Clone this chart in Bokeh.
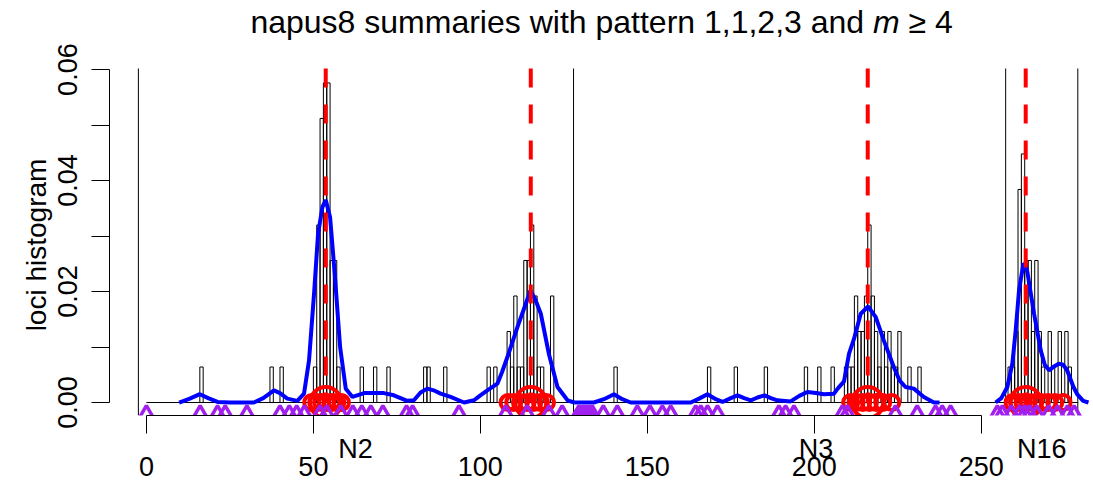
import math
import numpy as np
from bokeh.plotting import figure
from bokeh.models import Range1d, LinearAxis, FixedTicker
from bokeh.core.properties import value
from bokeh.embed import file_html
from bokeh.resources import INLINE

# ---------------- data ----------------
title_main = "napus8 summaries with pattern 1,1,2,3 and"
title_var = "m"
title_tail = "\u2265 4"
y_label = "loci histogram"

chrom_names = ["N2", "N3", "N16"]
chrom_bounds = [-2.4, 127.9, 257.3, 278.9]
chrom_label_pos = [62.6, 200.5, 268.1]

x_ticks = [0, 50, 100, 150, 200, 250]
y_ticks = [0.0, 0.01, 0.02, 0.03, 0.04, 0.05, 0.06]
y_tick_labels = ["0.00", "", "0.02", "", "0.04", "", "0.06"]

# histogram: 1-unit bins from hist_start to hist_end, non-empty bins listed
hist_start, hist_end = 0, 279
hist_bins = [16, 37, 40, 50, 51, 52, 53, 54, 55, 56, 57, 64, 68, 72, 83, 84, 89,
             102, 104, 108, 109, 110, 111, 112, 113, 114, 115, 116, 117, 118, 121,
             140, 168, 176, 185, 197, 201, 205, 209, 210, 211, 212, 213, 214, 215,
             216, 217, 218, 219, 220, 221, 222, 223, 224, 225, 228, 231,
             258, 259, 260, 261, 262, 263, 264, 265, 266, 267, 268, 270, 271, 273,
             275, 276]
hist_counts = [1, 1, 1, 1, 5, 8, 9, 9, 4, 4, 1, 1, 1, 1, 1, 1, 1,
               1, 1, 2, 1, 3, 1, 1, 4, 4, 5, 3, 1, 1, 3,
               1, 1, 1, 1, 1, 1, 1, 1, 1, 1, 3, 2, 2, 3,
               5, 3, 2, 1, 2, 1, 2, 1, 1, 2, 1, 1,
               1, 1, 2, 6, 7, 4, 4, 2, 4, 2, 1, 2, 1, 2,
               2, 1]
locus_density = 0.0064  # height of one locus in the density histogram

# smoothed density curves (one per chromosome)
n2_x = [9.8, 13, 16, 18.5, 21.3, 25, 32.2, 35, 38.2, 40, 42.2, 45.2, 47.2, 48.7,
        50.2, 51.4, 52.7, 53.7, 55, 56.4, 58, 59.7, 61.7, 65.2, 71.1, 74.1, 78.1,
        80.1, 82.1, 84.1, 86, 88.1, 91.1, 95.1, 98.1, 100, 102.1, 105.1, 106.5,
        108.1, 111.1, 113.6, 115, 116.5, 118.1, 120.5, 123.1, 126.1, 128.1]
n2_y = [0.0, 0.0007, 0.0015, 0.0008, 0.0001, 0.0, 0.0, 0.0008, 0.0022, 0.0017,
        0.0007, 0.0003, 0.0016, 0.0076, 0.0196, 0.0304, 0.0352, 0.0365, 0.0334,
        0.0232, 0.0100, 0.0025, 0.0010, 0.0017, 0.0017, 0.0013, 0.0003, 0.0004,
        0.0018, 0.0025, 0.0022, 0.0016, 0.0010, 0.0, 0.0004, 0.0013, 0.0022,
        0.0034, 0.0055, 0.0082, 0.0136, 0.0178, 0.0202, 0.0185, 0.0160, 0.0088,
        0.0028, 0.0004, 0.0]
n3_x = [128.1, 134, 137, 140, 142.5, 145, 163, 165.5, 168, 170.5, 172.5, 175, 177,
        179, 181, 183, 185.1, 187, 188.9, 192.9, 195.5, 197.9, 200.5, 202.9, 205.9,
        207, 208.9, 210.4, 211.9, 213.9, 216.1, 218.4, 220.8, 223.8, 225.5, 227.3,
        229.8, 232.8, 235.8, 237.5]
n3_y = [0.0, 0.0, 0.0006, 0.0015, 0.0006, 0.0, 0.0, 0.0007, 0.0015, 0.0006, 0.0001,
        0.0008, 0.0013, 0.0008, 0.0004, 0.0009, 0.0013, 0.0008, 0.0004, 0.0002,
        0.0012, 0.0019, 0.0017, 0.0015, 0.0016, 0.0025, 0.0038, 0.0088, 0.0115,
        0.0160, 0.0173, 0.0154, 0.0112, 0.0064, 0.0040, 0.0028, 0.0025, 0.0010,
        0.0, 0.0]
n16_x = [254.3, 256, 257.8, 259.3, 260.3, 261.3, 262.6, 263.3, 263.8, 265.8, 267.8,
         269, 270.3, 271.8, 273.2, 274.5, 275.7, 277.6, 278.7, 280.5, 282.1]
n16_y = [0.0, 0.0008, 0.0028, 0.0070, 0.0130, 0.0202, 0.0250, 0.0248, 0.0235,
         0.0160, 0.0094, 0.0068, 0.0058, 0.0065, 0.0070, 0.0068, 0.0058, 0.0028,
         0.0015, 0.0003, 0.0]

# modes (dashed lines + large circles), cluster loci (small circles), other loci (triangles)
mode_pos = [53.7, 115.1, 216.0, 263.3]
cluster_loci = [49.5, 51, 52.5, 54, 55.5, 57, 58.4,
                108.3, 110, 112, 114, 116, 118, 119.8,
                210.9, 212.5, 214.5, 216.5, 218.5, 220.5, 223.2,
                259.5, 261, 262.5, 264, 266, 268, 270, 272, 274.5]
other_loci = [0, 16.1, 21.3, 23.6, 30.1, 40, 42.8, 45, 47.3, 52, 54, 58.2, 61.8,
              64.5, 67.2, 70.8, 77.9, 79.7, 93.6, 107.6, 114, 120.5, 124.5,
              129.5, 130.5, 131.5, 132.5, 133.5, 136.8, 141, 147, 150.8, 154.5,
              157, 164.5, 166, 168, 171, 189.4, 191.4, 193.9, 208.4, 209.9,
              224.3, 230.8, 236.3, 238.3, 240.8,
              254.8, 256.3, 259, 261.5, 263, 264.5, 266.6, 270.2, 272.8, 275.8,
              277.8]

# ---------------- layout ----------------
W, H = 1093, 489
FL, FR = 109, 1093          # horizontal extent of the plotting region (px)
PT, PB = 68, 415            # vertical extent of the plotting region (px)
X0, X1 = -11.05, 283.6      # data range across FL..FR
PY0, PY1 = -0.00234, 0.0602  # data values at PB and PT
FONT = "Liberation Sans"

y_per_px = (PY1 - PY0) / (PB - PT)


def py(pix):
    """data y of a canvas pixel row"""
    return PY0 + (PB - pix) * y_per_px


def px(pix):
    return X0 + (pix - FL) * (X1 - X0) / (FR - FL)


p = figure(width=W, height=H, x_range=Range1d(X0, X1), y_range=Range1d(py(H), py(0)),
           output_backend="svg", toolbar_location=None,
           x_axis_type=None, y_axis_type=None,
           min_border_left=FL, min_border_right=W - FR,
           min_border_top=0, min_border_bottom=0)
p.outline_line_color = None
p.background_fill_color = "white"
p.border_fill_color = "white"

# axes
xaxis = LinearAxis(ticker=FixedTicker(ticks=x_ticks), bounds=(x_ticks[0], x_ticks[-1]),
                   fixed_location=PY0)
yaxis = LinearAxis(ticker=FixedTicker(ticks=y_ticks), bounds=(y_ticks[0], y_ticks[-1]),
                   axis_label=y_label)
yaxis.major_label_overrides = {t: l for t, l in zip(y_ticks, y_tick_labels)}
for ax in (xaxis, yaxis):
    ax.major_tick_out = 18
    ax.major_tick_in = 0
    ax.minor_tick_line_color = None
    ax.axis_line_color = "black"
    ax.major_tick_line_color = "black"
    ax.axis_line_width = 1
    ax.major_tick_line_width = 1
    ax.major_label_text_font = FONT
    ax.major_label_text_font_size = "27px"
    ax.major_label_text_color = "black"
xaxis.major_label_standoff = 23
yaxis.major_label_standoff = 14
yaxis.major_label_orientation = "vertical"
yaxis.axis_label_text_font = FONT
yaxis.axis_label_text_font_size = "28px"
yaxis.axis_label_text_font_style = "normal"
yaxis.axis_label_text_color = "black"
yaxis.axis_label_standoff = 4
p.add_layout(xaxis, "below")
p.add_layout(yaxis, "left")

# histogram
counts = np.array(hist_counts, dtype=float)
left = np.array(hist_bins, dtype=float)
p.segment(x0=[hist_start], y0=[0], x1=[hist_end], y1=[0], line_color="black", line_width=1)
p.quad(left=left, right=left + 1, bottom=0, top=counts * locus_density,
       fill_color=None, line_color="black", line_width=1)

# chromosome boundaries
nb = len(chrom_bounds)
p.segment(x0=chrom_bounds, y0=[PY0] * nb, x1=chrom_bounds, y1=[PY1] * nb,
          line_color="black", line_width=1)

# density curves
for cx, cy in ((n2_x, n2_y), (n3_x, n3_y), (n16_x, n16_y)):
    p.line(cx, cy, line_color="#0000FF", line_width=4)

# mode lines
nm = len(mode_pos)
p.segment(x0=mode_pos, y0=[PY1] * nm, x1=mode_pos, y1=[0] * nm,
          line_color="#FF0000", line_width=4, line_dash="19 17")

# circles
p.scatter(cluster_loci, np.zeros(len(cluster_loci)), marker="circle", size=15,
          fill_color=None, line_color="#FF0000", line_width=4)
p.scatter(mode_pos, np.zeros(nm), marker="circle", size=31,
          fill_color=None, line_color="#FF0000", line_width=4)

# triangles
p.scatter(other_loci, np.full(len(other_loci), PY0), marker="triangle", size=17,
          fill_color=None, line_color="#A020F0", line_width=3.5)

# everything below the plotting region is cut off (as with plot-region clipping)
p.quad(left=[X0], right=[X1], bottom=[py(H)], top=[PY0],
       fill_color="white", line_color=None)

# chromosome names under the axis
p.text(x=chrom_label_pos, y=[py(448)] * len(chrom_names), text=chrom_names,
       text_font=value(FONT), text_font_size=value("27px"), text_align="center",
       text_baseline="middle", text_color="black")

# title (with italic m)
ty = py(21)
p.text(x=[px(872.5)], y=[ty], text=[title_main + " "], text_font=value(FONT),
       text_font_size=value("32px"), text_align="right", text_baseline="middle",
       text_color="black")
p.text(x=[px(872.5)], y=[ty], text=[title_var], text_font=value(FONT),
       text_font_size=value("32px"), text_font_style="italic", text_align="left",
       text_baseline="middle", text_color="black")
p.text(x=[px(908)], y=[ty], text=[title_tail], text_font=value(FONT),
       text_font_size=value("32px"), text_align="left", text_baseline="middle",
       text_color="black")

open("out.html", "w").write(file_html(p, INLINE))
